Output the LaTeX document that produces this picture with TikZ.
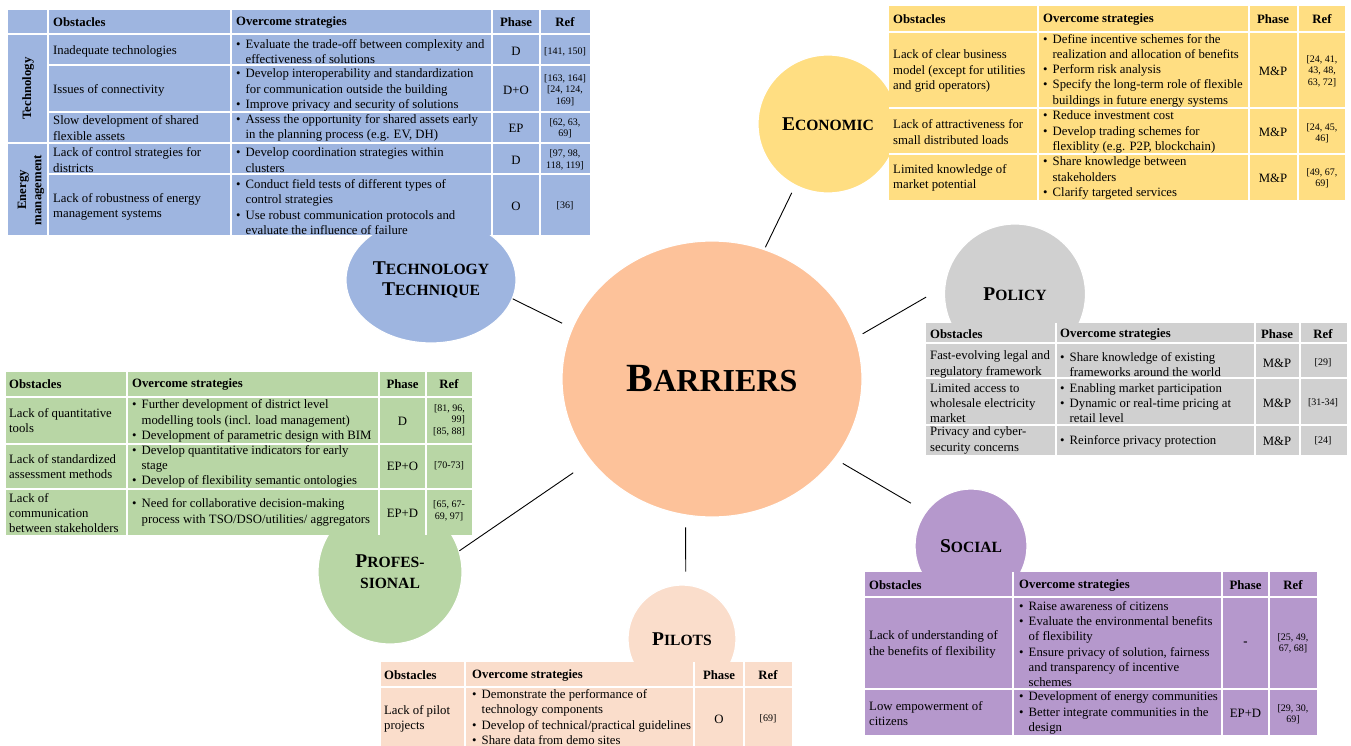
\documentclass[tikz,border=0pt]{standalone}
\usepackage{fontspec}
\setmainfont{Liberation Serif}
\usetikzlibrary{positioning}
\usetikzlibrary{shapes.geometric}

\definecolor{techblue}{RGB}{158,181,224}
\definecolor{ecoyellow}{RGB}{255,222,130}
\definecolor{polgrey}{RGB}{208,208,208}
\definecolor{socpurple}{RGB}{181,152,204}
\definecolor{profgreen}{RGB}{184,214,165}
\definecolor{pilpeach}{RGB}{250,221,203}
\definecolor{hubpeach}{RGB}{253,194,154}

\newcommand{\bodyfont}{\fontsize{12.75}{15.3}\selectfont}
\newcommand{\reffont}{\fontsize{10}{11.5}\selectfont}
\newcommand{\bitem}{\makebox[9.5pt][l]{\textbullet}}
\newcommand{\bcont}{\hspace*{9.5pt}}
\newcommand{\catname}[2]{{\fontsize{19.5}{21}\selectfont #1}{\fontsize{15.6}{21}\selectfont #2}}

\begin{document}
\begin{tikzpicture}[x=1pt,y=-1pt,
  bubble/.style={ellipse,draw=white,line width=1.2pt,inner sep=0pt,align=center,font=\bfseries\fontsize{19.5}{21}\selectfont},
  link/.style={draw=black,line width=0.9pt},
  gridline/.style={draw=white,line width=1.8pt},
  cell/.style={anchor=west,align=left,inner sep=0pt,font=\bodyfont},
  midcell/.style={anchor=center,align=center,inner sep=0pt,font=\bodyfont},
  refcell/.style={anchor=center,align=center,inner sep=0pt,font=\reffont},
  headcell/.style={inner sep=0pt,font=\bodyfont\bfseries}]
\useasboundingbox (0,0) rectangle (1351,746);
\clip (0,0) rectangle (1351,746);

\node[bubble,fill=hubpeach,minimum width=300pt,minimum height=276pt] (barriers) at (712,379) {{\fontsize{40}{40}\selectfont B}{\fontsize{32}{40}\selectfont ARRIERS}};
\node[bubble,fill=techblue,minimum width=170pt,minimum height=126pt] (tech) at (431,280) {\catname{T}{ECHNOLOGY}\\\catname{T}{ECHNIQUE}};
\node[bubble,fill=ecoyellow,minimum width=140pt,minimum height=138pt] (eco) at (828,124) {\catname{E}{CONOMIC}};
\node[bubble,fill=polgrey,minimum width=141pt,minimum height=140pt] (pol) at (1015,294) {\catname{P}{OLICY}};
\node[bubble,fill=socpurple,minimum width=112pt,minimum height=114pt] (soc) at (971,546) {\catname{S}{OCIAL}};
\node[bubble,fill=profgreen,minimum width=144pt,minimum height=144pt] (prof) at (390,572) {\catname{P}{ROFES-}\\\catname{}{SIONAL}};
\node[bubble,fill=pilpeach,minimum width=108pt,minimum height=108pt] (pil) at (682,639) {\catname{P}{ILOTS}};

\draw[link,shorten >=11pt] (tech.-13) -- (barriers.160);
\draw[link,shorten >=21pt] (prof.17) -- (barriers.214);
\draw[link,shorten <=12pt,shorten >=13pt] (barriers.259) -- (pil.86);
\draw[link,shorten <=9pt,shorten >=17pt] (barriers.-33) -- (soc.143);
\draw[link,shorten <=8pt,shorten >=21pt] (barriers.16) -- (pol.174);
\draw[link,shorten <=2pt,shorten >=8pt] (barriers.68) -- (eco.242);

% technology
\fill[techblue] (8,10) rectangle (590,235);
\foreach \x in {48,231,492,540} \draw[gridline] (\x,10) -- (\x,235);
\draw[gridline] (8,34) -- (590,34);
\draw[gridline] (8,143) -- (590,143);
\foreach \y in {65,112,174} \draw[gridline] (48,\y) -- (590,\y);
\node[headcell,anchor=west] (th1) at (53,22) {Obstacles};
\node[headcell,anchor=west] (th2) at (236,22) {Overcome strategies};
\node[headcell] (th3) at (516,22) {Phase};
\node[headcell] (th4) at (565,22) {Ref};
\node[headcell,rotate=90] (tl1) at (28,88.5) {Technology};
\node[headcell,rotate=90,align=center] (tl2) at (31,190) {Energy\\management};
\node[cell] (to1) at (53,51.5) {Inadequate technologies};
\node[cell] (ts1) at (236,51.5) {\bitem Evaluate the trade-off between complexity and\\\bcont effectiveness of solutions};
\node[midcell] (tp1) at (516,51.5) {D};
\node[refcell] (tr1) at (565,51.5) {[141, 150]};
\node[cell] (to2) at (53,90) {Issues of connectivity};
\node[cell] (ts2) at (236,90) {\bitem Develop interoperability and standardization\\\bcont for communication outside the building\\\bitem Improve privacy and security of solutions};
\node[midcell] (tp2) at (516,90) {D+O};
\node[refcell] (tr2) at (565,90) {[163, 164]\\{}[24, 124,\\169]};
\node[cell] (to3) at (53,128) {Slow development of shared\\flexible assets};
\node[cell] (ts3) at (236,128) {\bitem Assess the opportunity for shared assets early\\\bcont in the planning process (e.g. EV, DH)};
\node[midcell] (tp3) at (516,128) {EP};
\node[refcell] (tr3) at (565,128) {[62, 63,\\69]};
\node[cell] (to4) at (53,160) {Lack of control strategies for\\districts};
\node[cell] (ts4) at (236,160) {\bitem Develop coordination strategies within\\\bcont clusters};
\node[midcell] (tp4) at (516,160) {D};
\node[refcell] (tr4) at (565,160) {[97, 98,\\118, 119]};
\node[cell] (to5) at (53,207) {Lack of robustness of energy\\management systems};
\node[cell] (ts5) at (236,207) {\bitem Conduct field tests of different types of\\\bcont control strategies\\\bitem Use robust communication protocols and\\\bcont evaluate the influence of failure};
\node[midcell] (tp5) at (516,206) {O};
\node[refcell] (tr5) at (565,206) {[36]};

% economic
\fill[ecoyellow] (889,6) rectangle (1345,200);
\foreach \x in {1038,1249,1298} \draw[gridline] (\x,6) -- (\x,200);
\foreach \y in {32,108,154} \draw[gridline] (889,\y) -- (1345,\y);
\node[headcell,anchor=west] (eh1) at (893,19) {Obstacles};
\node[headcell,anchor=west] (eh2) at (1043,19) {Overcome strategies};
\node[headcell] (eh3) at (1273,19) {Phase};
\node[headcell] (eh4) at (1322,19) {Ref};
\node[cell] (eo1) at (893,71) {Lack of clear business\\model (except for utilities\\and grid operators)};
\node[cell] (es1) at (1043,70.5) {\bitem Define incentive schemes for the\\\bcont realization and allocation of benefits\\\bitem Perform risk analysis\\\bitem Specify the long-term role of flexible\\\bcont buildings in future energy systems};
\node[midcell] (ep1) at (1273,71) {M\&P};
\node[refcell] (er1) at (1322,71) {[24, 41,\\43, 48,\\63, 72]};
\node[cell] (eo2) at (893,132) {Lack of attractiveness for\\small distributed loads};
\node[cell] (es2) at (1043,132) {\bitem Reduce investment cost\\\bitem Develop trading schemes for\\\bcont flexiblity (e.g. P2P, blockchain)};
\node[midcell] (ep2) at (1273,132) {M\&P};
\node[refcell] (er2) at (1322,133) {[24, 45,\\46]};
\node[cell] (eo3) at (893,178) {Limited knowledge of\\market potential};
\node[cell] (es3) at (1043,178) {\bitem Share knowledge between\\\bcont stakeholders\\\bitem Clarify targeted services};
\node[midcell] (ep3) at (1273,178) {M\&P};
\node[refcell] (er3) at (1322,178) {[49, 67,\\69]};

% policy
\fill[polgrey] (926,323) rectangle (1347,455);
\foreach \x in {1056,1255,1300} \draw[gridline] (\x,323) -- (\x,455);
\foreach \y in {343,378,425} \draw[gridline] (926,\y) -- (1347,\y);
\node[headcell,anchor=west] (ph1) at (930,334) {Obstacles};
\node[headcell,anchor=west] (ph2) at (1060,334) {Overcome strategies};
\node[headcell] (ph3) at (1277,334) {Phase};
\node[headcell] (ph4) at (1323,334) {Ref};
\node[cell] (po1) at (930,364.5) {Fast-evolving legal and\\regulatory framework};
\node[cell] (ps1) at (1060,364.5) {\bitem Share knowledge of existing\\\bcont frameworks around the world};
\node[midcell] (pp1) at (1277,363) {M\&P};
\node[refcell] (pr1) at (1323,363) {[29]};
\node[cell] (po2) at (930,403) {Limited access to\\wholesale electricity\\market};
\node[cell] (ps2) at (1060,403) {\bitem Enabling market participation\\\bitem Dynamic or real-time pricing at\\\bcont retail level};
\node[midcell] (pp2) at (1277,403) {M\&P};
\node[refcell] (pr2) at (1323,403) {[31-34]};
\node[cell] (po3) at (930,440.5) {Privacy and cyber-\\security concerns};
\node[cell] (ps3) at (1060,441) {\bitem Reinforce privacy protection};
\node[midcell] (pp3) at (1277,441) {M\&P};
\node[refcell] (pr3) at (1323,441) {[24]};

% professional
\fill[profgreen] (6,372) rectangle (472,535);
\foreach \x in {127,379,426} \draw[gridline] (\x,372) -- (\x,535);
\foreach \y in {397,444,489} \draw[gridline] (6,\y) -- (472,\y);
\node[headcell,anchor=west] (rh1) at (9,384.5) {Obstacles};
\node[headcell,anchor=west] (rh2) at (132,384.5) {Overcome strategies};
\node[headcell] (rh3) at (402.5,384.5) {Phase};
\node[headcell] (rh4) at (449,384.5) {Ref};
\node[cell] (ro1) at (9,420.5) {Lack of quantitative\\tools};
\node[cell] (rs1) at (132,421) {\bitem Further development of district level\\\bcont modelling tools (incl. load management)\\\bitem Development of parametric design with BIM};
\node[midcell] (rp1) at (402.5,421) {D};
\node[refcell,align=right] (rr1) at (449,420) {[81, 96,\\99]\\{}[85, 88]};
\node[cell] (ro2) at (9,466.5) {Lack of standardized\\assessment methods};
\node[cell] (rs2) at (132,466.5) {\bitem Develop quantitative indicators for early\\\bcont stage\\\bitem Develop of flexibility semantic ontologies};
\node[midcell] (rp2) at (402.5,466) {EP+O};
\node[refcell] (rr2) at (449,466) {[70-73]};
\node[cell] (ro3) at (9,513) {Lack of\\communication\\between stakeholders};
\node[cell] (rs3) at (132,512.5) {\bitem Need for collaborative decision-making\\\bcont process with TSO/DSO/utilities/ aggregators};
\node[midcell] (rp3) at (402.5,513) {EP+D};
\node[refcell] (rr3) at (449,511) {[65, 67-\\69, 97]};

% social
\fill[socpurple] (865,572) rectangle (1317,735);
\foreach \x in {1013,1222,1269} \draw[gridline] (\x,572) -- (\x,735);
\foreach \y in {597,689} \draw[gridline] (865,\y) -- (1317,\y);
\node[headcell,anchor=west] (sh1) at (869,585) {Obstacles};
\node[headcell,anchor=west] (sh2) at (1019,585) {Overcome strategies};
\node[headcell] (sh3) at (1245.5,585) {Phase};
\node[headcell] (sh4) at (1293,585) {Ref};
\node[cell] (so1) at (869,644.5) {Lack of understanding of\\the benefits of flexibility};
\node[cell] (ss1) at (1019,644) {\bitem Raise awareness of citizens\\\bitem Evaluate the environmental benefits\\\bcont of flexibility\\\bitem Ensure privacy of solution, fairness\\\bcont and transparency of incentive\\\bcont schemes};
\node[midcell,font=\bodyfont\bfseries] (sp1) at (1245.5,644) {-};
\node[refcell] (sr1) at (1293,643.5) {[25, 49,\\67, 68]};
\node[cell] (so2) at (869,713.5) {Low empowerment of\\citizens};
\node[cell] (ss2) at (1019,713) {\bitem Development of energy communities\\\bitem Better integrate communities in the\\\bcont design};
\node[midcell] (sp2) at (1245.5,713) {EP+D};
\node[refcell] (sr2) at (1293,714) {[29, 30,\\69]};

% pilots
\fill[pilpeach] (381,662) rectangle (792,750);
\foreach \x in {465,694,744} \draw[gridline] (\x,662) -- (\x,750);
\draw[gridline] (381,687) -- (792,687);
\node[headcell,anchor=west] (lh1) at (384,675) {Obstacles};
\node[headcell,anchor=west] (lh2) at (472,675) {Overcome strategies};
\node[headcell] (lh3) at (719,675) {Phase};
\node[headcell] (lh4) at (768,675) {Ref};
\node[cell] (lo1) at (384,719) {Lack of pilot\\projects};
\node[cell] (ls1) at (472,717) {\bitem Demonstrate the performance of\\\bcont technology components\\\bitem Develop of technical/practical guidelines\\\bitem Share data from demo sites};
\node[midcell] (lp1) at (719,719) {O};
\node[refcell] (lr1) at (768,719) {[69]};
\end{tikzpicture}
\end{document}
